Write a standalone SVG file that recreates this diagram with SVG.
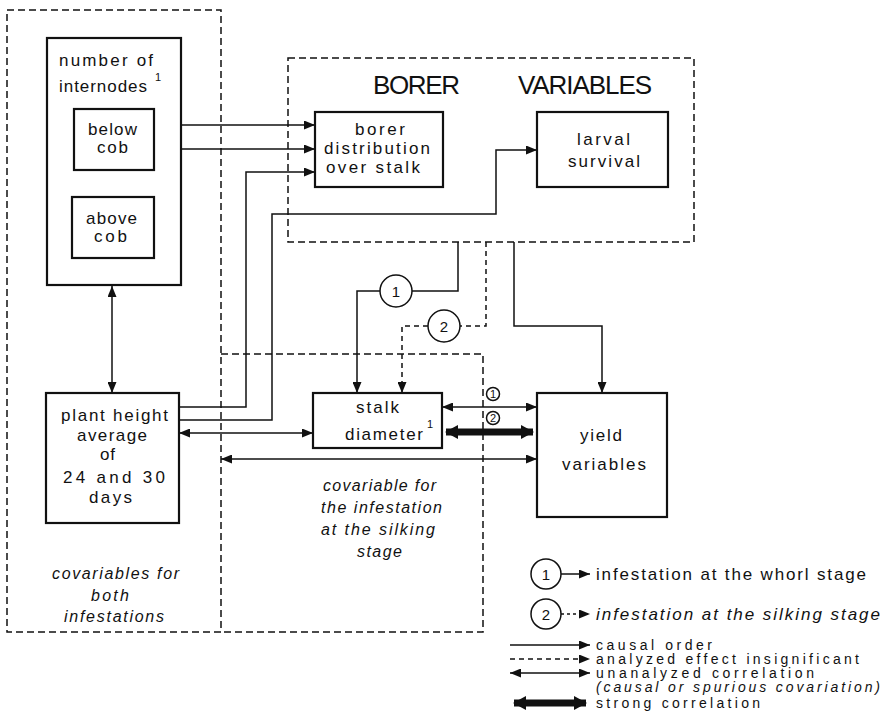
<svg xmlns="http://www.w3.org/2000/svg" width="893" height="712" viewBox="0 0 893 712">
  <style>
    text { font-family: "Liberation Sans", Arial, sans-serif; font-size: 17px; fill: #111; }
    .it { font-style: italic; font-size: 16px; }
    .head { font-size: 26px; }
    .sup { font-size: 11px; }
    .num { font-size: 15px; text-anchor: middle; }
    .small { font-size: 11px; text-anchor: middle; }
    .key { font-size: 14px; }
    .box { fill: #fff; stroke: #111; stroke-width: 2.2; }
    .region { fill: none; stroke: #111; stroke-width: 1.5; stroke-dasharray: 7 4; }
    .ln { fill: none; stroke: #111; stroke-width: 1.5; }
    .dash { stroke-dasharray: 5 4; }
    .strong { fill: none; stroke: #111; stroke-width: 7; }
    .circ { fill: #fff; stroke: #111; stroke-width: 1.5; }
  </style>
  <defs>
    <marker id="ah" viewBox="0 0 11 9" refX="11" refY="4.5" markerWidth="11" markerHeight="9" markerUnits="userSpaceOnUse" orient="auto-start-reverse">
      <path d="M0,0 L11,4.5 L0,9 Z" fill="#111"/>
    </marker>
    <marker id="ahb" viewBox="0 0 13 14" refX="12" refY="7" markerWidth="13" markerHeight="14" markerUnits="userSpaceOnUse" orient="auto-start-reverse">
      <path d="M0,0 L13,7 L0,14 Z" fill="#111"/>
    </marker>
  </defs>

  <!-- dashed regions -->
  <g id="region-both">
    <rect class="region" x="7" y="10" width="214" height="622"/>
    <text class="it" x="52" y="579" textLength="127" lengthAdjust="spacing">covariables for</text>
    <text class="it" x="91" y="601" textLength="38" lengthAdjust="spacing">both</text>
    <text class="it" x="64" y="622" textLength="100" lengthAdjust="spacing">infestations</text>
  </g>
  <g id="region-silking">
    <path class="region" d="M221,354 H483 V632 H221"/>
    <text class="it" x="323" y="491" textLength="113" lengthAdjust="spacing">covariable for</text>
    <text class="it" x="321" y="513" textLength="121" lengthAdjust="spacing">the infestation</text>
    <text class="it" x="321" y="535" textLength="114" lengthAdjust="spacing">at the silking</text>
    <text class="it" x="357" y="557" textLength="45" lengthAdjust="spacing">stage</text>
  </g>
  <g id="region-borer">
    <rect class="region" x="288" y="58" width="406" height="184"/>
    <text class="head" x="373" y="94" textLength="87" lengthAdjust="spacing">BORER</text>
    <text class="head" x="518" y="94" textLength="134" lengthAdjust="spacing">VARIABLES</text>
  </g>

  <!-- connectors -->
  <g id="connectors">
    <line class="ln" x1="154" y1="125" x2="315" y2="125" marker-end="url(#ah)"/>
    <line class="ln" x1="181" y1="149" x2="315" y2="149" marker-end="url(#ah)"/>
    <path class="ln" d="M179,407 H246 V172 H315" marker-end="url(#ah)"/>
    <path class="ln" d="M179,420 H272 V214 H496 V150 H537" marker-end="url(#ah)"/>
    <line class="ln" x1="112" y1="286" x2="112" y2="393" marker-start="url(#ah)" marker-end="url(#ah)"/>
    <path class="ln" d="M514,242 V326 H602 V393" marker-end="url(#ah)"/>
    <path class="ln" d="M458,242 V291 H412 M380,291 H357 V393" marker-end="url(#ah)"/>
    <path class="ln dash" d="M486,242 V326 H460 M428,326 H402 V393" marker-end="url(#ah)"/>
    <line class="ln" x1="179" y1="433" x2="313" y2="433" marker-start="url(#ah)" marker-end="url(#ah)"/>
    <line class="ln" x1="442" y1="407" x2="537" y2="407" marker-start="url(#ah)" marker-end="url(#ah)"/>
    <line class="strong" x1="446" y1="432" x2="533" y2="432" marker-start="url(#ahb)" marker-end="url(#ahb)"/>
    <line class="ln" x1="221" y1="459" x2="537" y2="459" marker-start="url(#ah)" marker-end="url(#ah)"/>
    <circle class="circ" cx="396" cy="291" r="16"/>
    <text class="num" x="396" y="297">1</text>
    <circle class="circ" cx="444" cy="326" r="16"/>
    <text class="num" x="444" y="332">2</text>
    <circle class="circ" cx="493" cy="394" r="6.5" stroke-width="1.2"/>
    <text class="small" x="493" y="398">1</text>
    <circle class="circ" cx="493" cy="418" r="6.5" stroke-width="1.2"/>
    <text class="small" x="493" y="422">2</text>
  </g>

  <!-- nodes -->
  <g id="internodes">
    <rect class="box" x="47" y="38" width="134" height="247"/>
    <text x="59" y="66" textLength="94" lengthAdjust="spacing">number of</text>
    <text x="59" y="92" textLength="88" lengthAdjust="spacing">internodes</text>
    <text class="sup" x="155" y="81">1</text>
  </g>
  <g id="below-cob">
    <rect class="box" x="74" y="109" width="80" height="61"/>
    <text x="88" y="135" textLength="49" lengthAdjust="spacing">below</text>
    <text x="97" y="153" textLength="31" lengthAdjust="spacing">cob</text>
  </g>
  <g id="above-cob">
    <rect class="box" x="72" y="197" width="82" height="61"/>
    <text x="86" y="224" textLength="51" lengthAdjust="spacing">above</text>
    <text x="94" y="242" textLength="33" lengthAdjust="spacing">cob</text>
  </g>
  <g id="borer-distribution">
    <rect class="box" x="315" y="112" width="128" height="75"/>
    <text x="355" y="135" textLength="50" lengthAdjust="spacing">borer</text>
    <text x="324" y="154" textLength="106" lengthAdjust="spacing">distribution</text>
    <text x="326" y="173" textLength="94" lengthAdjust="spacing">over stalk</text>
  </g>
  <g id="larval-survival">
    <rect class="box" x="537" y="112" width="131" height="75"/>
    <text x="577" y="145" textLength="53" lengthAdjust="spacing">larval</text>
    <text x="568" y="167" textLength="72" lengthAdjust="spacing">survival</text>
  </g>
  <g id="plant-height">
    <rect class="box" x="46" y="393" width="133" height="130"/>
    <text x="61" y="421" textLength="107" lengthAdjust="spacing">plant height</text>
    <text x="77" y="441" textLength="70" lengthAdjust="spacing">average</text>
    <text x="100" y="460" textLength="15" lengthAdjust="spacing">of</text>
    <text x="63" y="483" textLength="102" lengthAdjust="spacing">24 and 30</text>
    <text x="89" y="503" textLength="43" lengthAdjust="spacing">days</text>
  </g>
  <g id="stalk-diameter">
    <rect class="box" x="313" y="393" width="129" height="55"/>
    <text x="356" y="413" textLength="43" lengthAdjust="spacing">stalk</text>
    <text x="345" y="440" textLength="78" lengthAdjust="spacing">diameter</text>
    <text class="sup" x="427" y="428">1</text>
  </g>
  <g id="yield-variables">
    <rect class="box" x="537" y="393" width="130" height="124"/>
    <text x="580" y="441" textLength="42" lengthAdjust="spacing">yield</text>
    <text x="562" y="470" textLength="84" lengthAdjust="spacing">variables</text>
  </g>

  <!-- key -->
  <g id="legend">
    <circle class="circ" cx="546" cy="574" r="15"/>
    <text class="num" x="546" y="580">1</text>
    <line class="ln" x1="561" y1="574" x2="590" y2="574" marker-end="url(#ah)"/>
    <text x="596" y="580" textLength="270" lengthAdjust="spacing">infestation at the whorl stage</text>

    <circle class="circ" cx="546" cy="614" r="15"/>
    <text class="num" x="546" y="620">2</text>
    <line class="ln" x1="561" y1="614" x2="590" y2="614" stroke-dasharray="3 3" marker-end="url(#ah)"/>
    <text class="it" x="596" y="620" textLength="284" lengthAdjust="spacing" style="font-size:17px">infestation at the silking stage</text>

    <line class="ln" x1="510" y1="645" x2="590" y2="645" marker-end="url(#ah)"/>
    <text class="key" x="596" y="650" textLength="116" lengthAdjust="spacing">causal order</text>

    <line class="ln dash" x1="510" y1="659" x2="590" y2="659" marker-end="url(#ah)"/>
    <text class="key" x="596" y="664" textLength="263" lengthAdjust="spacing">analyzed effect insignificant</text>

    <line class="ln" x1="510" y1="673" x2="590" y2="673" marker-start="url(#ah)" marker-end="url(#ah)"/>
    <text class="key" x="596" y="678" textLength="218" lengthAdjust="spacing">unanalyzed correlation</text>
    <text class="key it" x="596" y="692" textLength="284" lengthAdjust="spacing">(causal or spurious covariation)</text>

    <line class="strong" x1="514" y1="703" x2="586" y2="703" marker-start="url(#ahb)" marker-end="url(#ahb)"/>
    <text class="key" x="596" y="708" textLength="164" lengthAdjust="spacing">strong correlation</text>
  </g>
</svg>
